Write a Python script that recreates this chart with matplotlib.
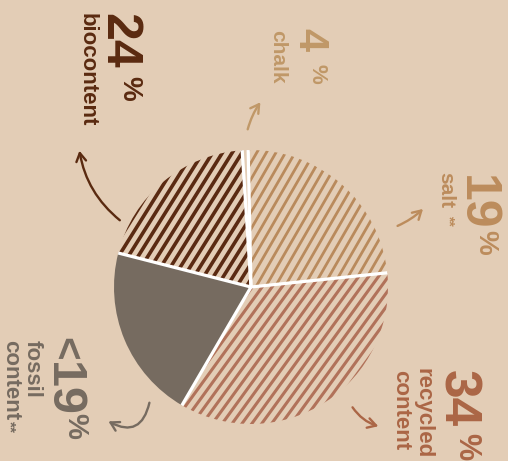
import numpy as np
import matplotlib.pyplot as plt
from matplotlib.collections import LineCollection
from matplotlib.patches import FancyArrowPatch

# shares, clockwise from the top
names = ['chalk', 'salt', 'recycled', 'fossil', 'bio']
shares = [0.7, 23.7, 35.1, 20.6, 20.0]
pct_text = ['4', '19', '34', '<19', '24']
bg = '#e3cdb6'
colors = {'chalk': '#c09868', 'salt': '#bc8c5c', 'recycled': '#ab6646',
          'fossil': '#766b60', 'bio': '#5a2a10'}
stripe_col = {'salt': '#b98a5c', 'recycled': '#b1725a', 'bio': '#5a2a12'}

W, H = 508, 461
fig = plt.figure(figsize=(W / 100, H / 100), dpi=100, facecolor=bg)
ax = fig.add_axes([0, 0, 1, 1])

cx, cy, R = 251, H - 287, 137
wedges, _ = ax.pie(shares, startangle=93.7, counterclock=False, center=(cx, cy),
                   radius=R, frame=True,
                   colors=[bg, bg, bg, colors['fossil'], bg])
ax.set_xlim(0, W)
ax.set_ylim(0, H)
ax.set_aspect('equal')
ax.axis('off')


def stripes(w, color, angle, spacing, lw):
    a = np.deg2rad(angle)
    d = np.array([np.cos(a), np.sin(a)])
    n = np.array([-np.sin(a), np.cos(a)])
    segs = []
    for o in np.arange(-R, R + spacing, spacing):
        p = np.array([cx, cy]) + o * n
        segs.append([p - R * d, p + R * d])
    lc = LineCollection(segs, colors=color, linewidths=lw, capstyle='butt')
    ax.add_collection(lc)
    lc.set_clip_path(w)


for w, nm in zip(wedges, names):
    if nm == 'salt':
        stripes(w, stripe_col[nm], 60, 8.3, 2.0)
    elif nm == 'recycled':
        stripes(w, stripe_col[nm], 54, 8.0, 2.2)
    elif nm == 'bio':
        stripes(w, stripe_col[nm], 58, 8.3, 2.6)

# white separators
for w in wedges:
    t = np.deg2rad(w.theta1)
    ax.plot([cx, cx + R * np.cos(t)], [cy, cy + R * np.sin(t)], color='white',
            lw=2.3, solid_capstyle='butt')

FONT = 'Liberation Sans'


def rtext(x, y, s, size, color):
    # x = baseline (image px), y = start of text from top (image px)
    ax.text(x, H - y, s, rotation=-90, rotation_mode='anchor', ha='left',
            va='baseline', fontsize=size, fontweight='bold', color=color,
            family=FONT)


rtext(105, 13, pct_text[4], 36, colors['bio'])
rtext(122, 76, '%', 20, colors['bio'])
rtext(82, 13, 'biocontent', 16, colors['bio'])

rtext(298, 28, pct_text[0], 30, colors['chalk'])
rtext(312, 64, '%', 16, colors['chalk'])
rtext(272, 30, 'chalk', 15, colors['chalk'])

rtext(463, 175, pct_text[1], 36, colors['salt'])
rtext(478, 230, '%', 20, colors['salt'])
rtext(440, 172, 'salt', 15, colors['salt'])
rtext(445, 215, '**', 10, colors['salt'])

rtext(443, 370, pct_text[2], 37, colors['recycled'])
rtext(458, 433, '%', 22, colors['recycled'])
rtext(418, 368, 'recycled', 16, colors['recycled'])
rtext(395, 370, 'content', 16, colors['recycled'])

rtext(53, 337, pct_text[3][0], 29, colors['fossil'])
rtext(50, 362, pct_text[3][1:], 35, colors['fossil'])
rtext(67, 413, '%', 21, colors['fossil'])
rtext(27, 340, 'fossil', 16, colors['fossil'])
rtext(5, 340, 'content', 16, colors['fossil'])
rtext(5, 421, '**', 11, colors['fossil'])


def arrow(p0, p1, rad, color):
    a = FancyArrowPatch((p0[0], H - p0[1]), (p1[0], H - p1[1]),
                        connectionstyle=f'arc3,rad={rad}',
                        arrowstyle='->,head_length=6,head_width=3.5',
                        color=color, lw=1.7)
    ax.add_patch(a)


arrow((122, 222), (79, 148), -0.2, colors['bio'])
arrow((247, 132), (262, 100), -0.1, colors['chalk'])
arrow((395, 227), (425, 207), 0.1, colors['salt'])
arrow((351, 405), (381, 427), 0.2, colors['recycled'])
arrow((150, 400), (106, 420), -0.7, colors['fossil'])

fig.savefig('out.png', dpi=100, facecolor=bg)
